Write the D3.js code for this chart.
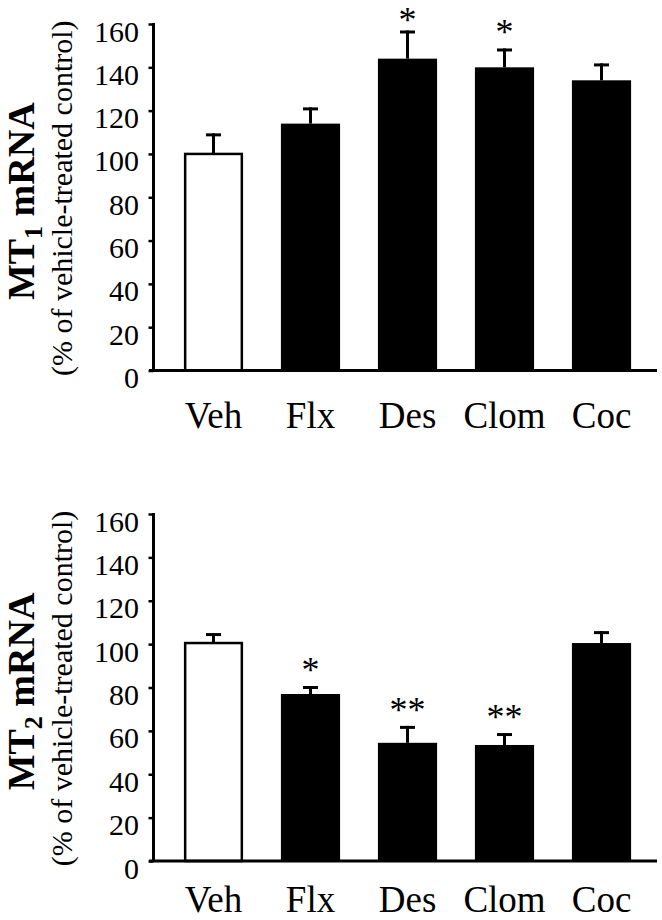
<!DOCTYPE html>
<html><head><meta charset="utf-8">
<script src="https://cdn.jsdelivr.net/npm/d3@7"></script>
<style>body{margin:0;background:#fff} svg{display:block}</style>
</head><body>
<svg id="chart" width="662" height="920"></svg>
<script>
const categories = ["Veh", "Flx", "Des", "Clom", "Coc"];
const mt1Values = [100, 114, 144, 140, 134];
const mt1Errors = [9.5, 7.5, 13, 8.7, 7.8];
const mt1Sig = ["", "", "*", "*", ""];
const mt2Values = [100.5, 77, 54.5, 53.5, 100.5];
const mt2Errors = [4.6, 3.7, 7.8, 5.5, 5.5];
const mt2Sig = ["", "*", "**", "**", ""];
const yTicks = [0, 20, 40, 60, 80, 100, 120, 140, 160];
const yDomain = [0, 160];
const titleMain = "MT";
const titleSubs = ["1", "2"];
const titleRest = " mRNA";
const subtitle = "(% of vehicle-treated control)";

const FONT = "'Liberation Serif','Times New Roman',Times,serif";
const svg = d3.select("#chart");

const x = d3.scaleBand().domain(categories).range([165, 650])
  .paddingInner(0.39).paddingOuter(0.195);

const panels = [
  {values: mt1Values, errors: mt1Errors, sig: mt1Sig, sub: titleSubs[0], top: 24, bottom: 370.5, labelOff: 57.5},
  {values: mt2Values, errors: mt2Errors, sig: mt2Sig, sub: titleSubs[1], top: 514, bottom: 861, labelOff: 50.5}
];

const axisX = 153.5;
const sigSize = 36;

panels.forEach(p => {
  const y = d3.scaleLinear().domain(yDomain).range([p.bottom, p.top]);
  const g = svg.append("g");

  // bars
  g.selectAll("rect.bar").data(categories).join("rect")
    .attr("class", "bar")
    .attr("x", (d, i) => i === 0 ? x(d) + 1.25 : x(d))
    .attr("width", (d, i) => i === 0 ? x.bandwidth() - 2.5 : x.bandwidth())
    .attr("y", (d, i) => y(p.values[i]))
    .attr("height", (d, i) => y(0) - y(p.values[i]))
    .attr("fill", (d, i) => i === 0 ? "#fff" : "#000")
    .attr("stroke", "#000")
    .attr("stroke-width", (d, i) => i === 0 ? 2.5 : 0);

  // error bars
  const cx = d => x(d) + x.bandwidth() / 2;
  g.selectAll("line.err").data(categories).join("line")
    .attr("class", "err")
    .attr("x1", cx).attr("x2", cx)
    .attr("y1", (d, i) => y(p.values[i]))
    .attr("y2", (d, i) => y(p.values[i] + p.errors[i]))
    .attr("stroke", "#000").attr("stroke-width", 3);
  g.selectAll("line.cap").data(categories).join("line")
    .attr("class", "cap")
    .attr("x1", d => cx(d) - 7.5).attr("x2", d => cx(d) + 7.5)
    .attr("y1", (d, i) => y(p.values[i] + p.errors[i]) + 1.5)
    .attr("y2", (d, i) => y(p.values[i] + p.errors[i]) + 1.5)
    .attr("stroke", "#000").attr("stroke-width", 3);

  // significance
  g.selectAll("text.sig").data(categories).join("text")
    .attr("class", "sig")
    .attr("x", cx)
    .attr("y", (d, i) => Math.max(y(p.values[i] + p.errors[i]) - 4, sigSize * 0.9))
    .attr("text-anchor", "middle")
    .attr("font-family", FONT).attr("font-size", sigSize)
    .text((d, i) => p.sig[i]);

  // y axis
  const ya = g.append("g").attr("transform", `translate(${axisX},0)`)
    .call(d3.axisLeft(y).tickValues(yTicks).tickSize(5).tickSizeOuter(0).tickPadding(9.5).tickFormat(d3.format("d")));
  ya.attr("font-family", FONT).attr("font-size", 30);
  ya.select(".domain").attr("stroke-width", 3).attr("d", `M0,${p.top - 1}V${p.bottom}`);
  ya.selectAll(".tick line").attr("stroke-width", 2.5);
  ya.selectAll(".tick text").attr("dy", 17).attr("font-family", FONT).attr("font-size", 30).attr("fill", "#000");

  // x axis baseline
  g.append("line").attr("x1", 149).attr("x2", 657)
    .attr("y1", y(0)).attr("y2", y(0))
    .attr("stroke", "#000").attr("stroke-width", 3);

  // x labels
  const xa = g.append("g").attr("transform", `translate(0,${y(0)})`)
    .call(d3.axisBottom(x).tickSize(0).tickPadding(0));
  xa.attr("font-family", FONT).attr("font-size", 37);
  xa.select(".domain").remove();
  xa.selectAll(".tick text").attr("dy", 0).attr("y", p.labelOff)
    .attr("font-family", FONT).attr("font-size", 37).attr("fill", "#000");

  // titles
  const mid = (p.top + p.bottom) / 2;
  const t = g.append("text")
    .attr("transform", `translate(34,${mid + 4}) rotate(-90)`)
    .attr("text-anchor", "middle")
    .attr("font-family", FONT).attr("font-weight", "bold").attr("font-size", 38);
  t.append("tspan").text(titleMain);
  t.append("tspan").attr("font-size", 26).attr("dy", 8).text(p.sub);
  t.append("tspan").attr("dy", -8).text(titleRest);

  g.append("text")
    .attr("transform", `translate(72,${mid + 1}) rotate(-90)`)
    .attr("text-anchor", "middle")
    .attr("font-family", FONT).attr("font-size", 30)
    .text(subtitle);
});
</script>
</body></html>
